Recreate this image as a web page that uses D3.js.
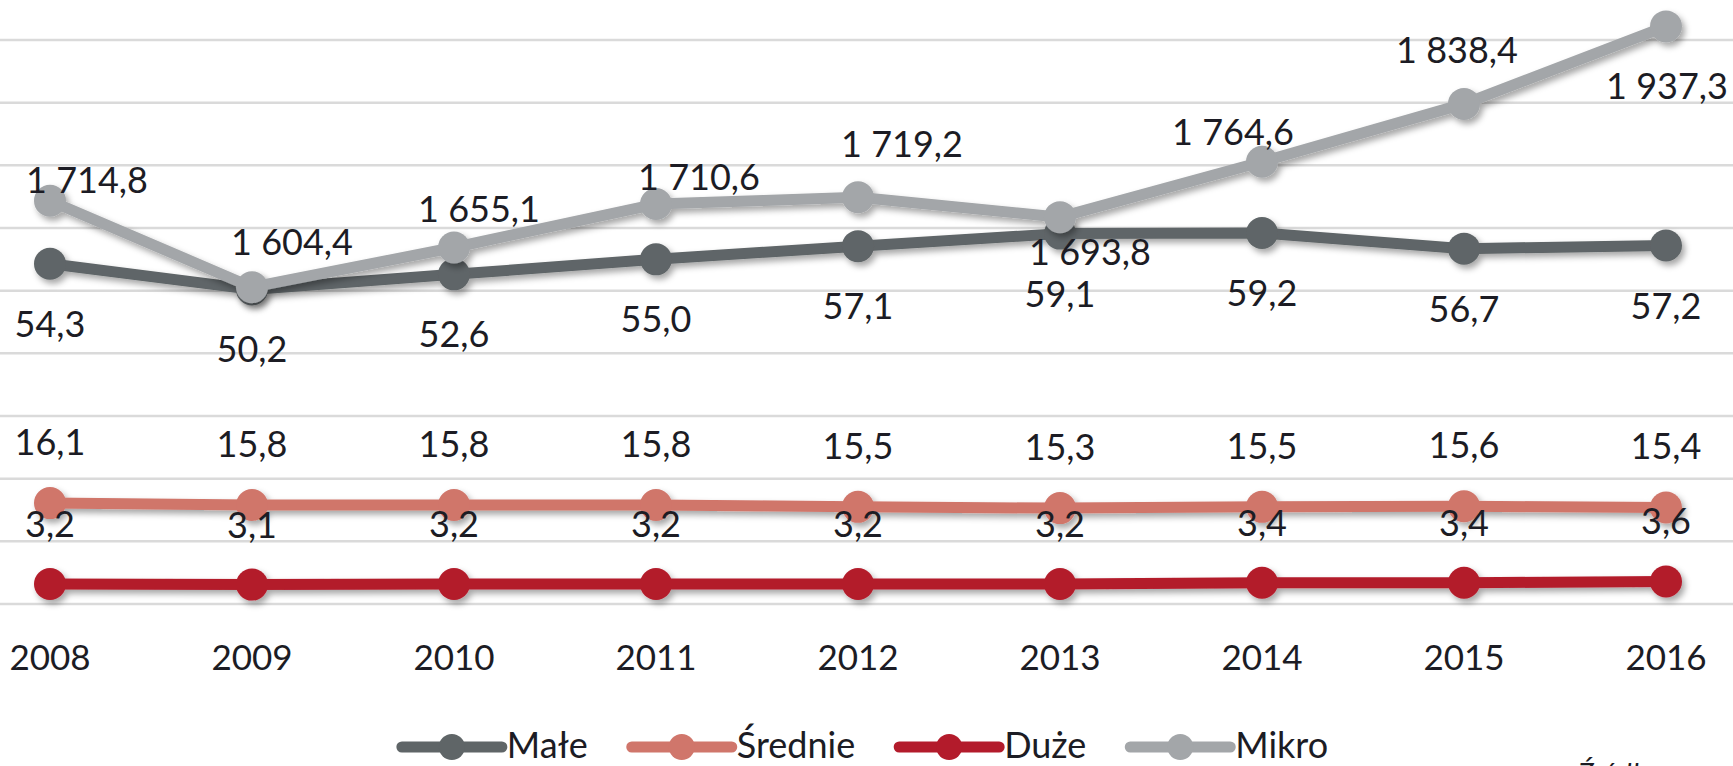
<!DOCTYPE html>
<html>
<head>
<meta charset="utf-8">
<script src="https://cdn.jsdelivr.net/npm/d3@7"></script>
<style>
    html, body { margin: 0; padding: 0; background: #fff; }
    svg { display: block; }
</style>
</head>
<body>
<svg id="chart"></svg>
<script>
// data
const years = ["2008", "2009", "2010", "2011", "2012", "2013", "2014", "2015", "2016"];
const male = [54.3, 50.2, 52.6, 55.0, 57.1, 59.1, 59.2, 56.7, 57.2];
const srednie = [16.1, 15.8, 15.8, 15.8, 15.5, 15.3, 15.5, 15.6, 15.4];
const duze = [3.2, 3.1, 3.2, 3.2, 3.2, 3.2, 3.4, 3.4, 3.6];
const mikro = [1714.8, 1604.4, 1655.1, 1710.6, 1719.2, 1693.8, 1764.6, 1838.4, 1937.3];
const seriesNames = ["Małe", "Średnie", "Duże", "Mikro"];
const leftTicks = [0, 10, 20, 30, 40, 50, 60, 70, 80, 90, 100];
const sourceText = "Źródło:";

// hand placed label offsets for Mikro (the original labels were dragged around)
const mikroLabelShift = [[37, -8], [40, -32], [25, -25], [43, -14], [44, -40], [30, 48], [-29, -17], [-7, -41], [1, 73]];

const width = 1733;
const height = 766;
const font = "Lato, 'Open Sans', sans-serif";
const textColor = "#1c1c24";

const svg = d3.select("#chart")
    .attr("width", width)
    .attr("height", height);

// drop shadow like the excel series effect
const defs = svg.append("defs");
defs.append("filter")
    .attr("id", "shadow")
    .attr("x", "-10%").attr("y", "-50%")
    .attr("width", "120%").attr("height", "200%")
    .append("feDropShadow")
    .attr("dx", 3)
    .attr("dy", 4)
    .attr("stdDeviation", 3)
    .attr("flood-color", "#000")
    .attr("flood-opacity", 0.35);

const x = d3.scalePoint()
    .domain(years)
    .range([50, 1666]);

// primary axis for Małe / Średnie / Duże, secondary for Mikro
const yLeft = d3.scaleLinear()
    .domain([0, 100])
    .range([604, -22.7]);

const yRight = d3.scaleLinear()
    .domain([1200, 2000])
    .range([604, -22.7]);

const fmt = d3.formatLocale({ decimal: ",", thousands: " ", grouping: [3], currency: ["", ""] }).format(",.1f");

// gridlines
svg.append("g")
    .selectAll("line")
    .data(leftTicks)
    .join("line")
    .attr("x1", 0)
    .attr("x2", width)
    .attr("y1", d => yLeft(d))
    .attr("y2", d => yLeft(d))
    .attr("stroke", "#dadada")
    .attr("stroke-width", 2.5);

// x axis labels
svg.append("g")
    .selectAll("text")
    .data(years)
    .join("text")
    .attr("x", d => x(d))
    .attr("y", 670)
    .attr("text-anchor", "middle")
    .attr("font-family", font)
    .attr("font-size", "35px")
    .attr("fill", textColor)
    .text(d => d);

const series = [
    { name: seriesNames[0], values: male, y: yLeft, color: "#5f6567", shift: () => [0, 73] },
    { name: seriesNames[1], values: srednie, y: yLeft, color: "#d0766b", shift: () => [0, -48] },
    { name: seriesNames[2], values: duze, y: yLeft, color: "#b31b2b", shift: () => [0, -47] },
    { name: seriesNames[3], values: mikro, y: yRight, color: "#a3a6a9", shift: i => mikroLabelShift[i] }
];

const line = d3.line()
    .x(d => x(d.year))
    .y(d => d.py);

series.forEach(s => {
    const pts = s.values.map((v, i) => ({ year: years[i], value: v, py: s.y(v) }));
    const g = svg.append("g").attr("filter", "url(#shadow)");

    g.append("path")
        .attr("d", line(pts))
        .attr("fill", "none")
        .attr("stroke", s.color)
        .attr("stroke-width", 11)
        .attr("stroke-linejoin", "round");

    g.selectAll("circle")
        .data(pts)
        .join("circle")
        .attr("cx", d => x(d.year))
        .attr("cy", d => d.py)
        .attr("r", 16)
        .attr("fill", s.color);
});

// data labels on top of everything
series.forEach(s => {
    svg.append("g")
        .selectAll("text")
        .data(s.values)
        .join("text")
        .attr("x", (d, i) => x(years[i]) + s.shift(i)[0])
        .attr("y", (d, i) => s.y(d) + s.shift(i)[1])
        .attr("text-anchor", "middle")
        .attr("font-family", font)
        .attr("font-size", "36px")
        .attr("fill", textColor)
        .text(d => fmt(d));
});

// legend
const legend = svg.append("g");
let lx = 0;
series.forEach(s => {
    const item = legend.append("g").attr("transform", `translate(${lx},0)`);
    item.append("line")
        .attr("x1", 0).attr("x2", 100)
        .attr("y1", 747).attr("y2", 747)
        .attr("stroke", s.color)
        .attr("stroke-width", 11)
        .attr("stroke-linecap", "round");
    item.append("circle")
        .attr("cx", 50).attr("cy", 747)
        .attr("r", 13)
        .attr("fill", s.color);
    const t = item.append("text")
        .attr("x", 105)
        .attr("y", 758)
        .attr("font-family", font)
        .attr("font-size", "36px")
        .attr("fill", textColor)
        .text(s.name);
    lx += 105 + t.node().getComputedTextLength() + 44;
});
const legendWidth = lx - 44;
legend.attr("transform", `translate(${865 - legendWidth / 2},0)`);

// source line, mostly cut off at the bottom edge
svg.append("text")
    .attr("x", 1578)
    .attr("y", 784)
    .attr("font-family", font)
    .attr("font-style", "italic")
    .attr("font-size", "28px")
    .attr("fill", textColor)
    .text(sourceText);
</script>
</body>
</html>
